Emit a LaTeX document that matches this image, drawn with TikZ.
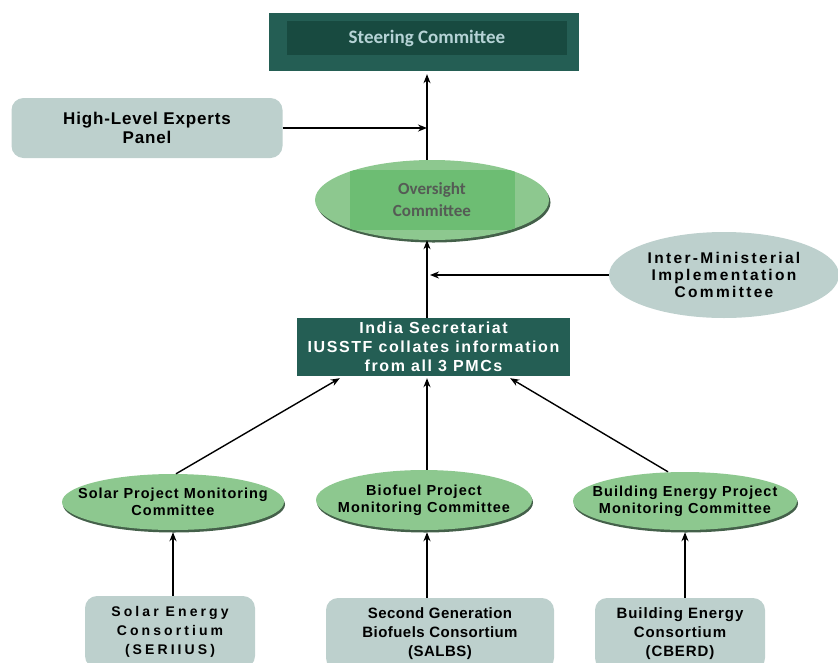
\documentclass[tikz,border=0pt]{standalone}
\usepackage{fontspec}
\setmainfont{Liberation Sans}
\newfontfamily\calibri{Carlito}
\usepackage{xcolor}
\usetikzlibrary{shapes.geometric,arrows.meta,shadows}

\definecolor{sfteal}{HTML}{245E54}
\definecolor{sfdeep}{HTML}{184A40}
\definecolor{sfsky}{HTML}{B6D3D6}
\definecolor{sfgrey}{HTML}{BDD0CD}
\definecolor{sfgreen}{HTML}{8DC88F}
\definecolor{sfleaf}{HTML}{6DBD73}
\definecolor{sfshade}{HTML}{44604A}
\definecolor{sfink}{HTML}{555B55}

\begin{document}
\begin{tikzpicture}[x=1pt, y=-1pt, >={Stealth[length=9pt,width=7pt]},
    darkbox/.style={rectangle, fill=sfteal, inner sep=0pt, align=center},
    greybox/.style={rectangle, rounded corners=12pt, fill=sfgrey, inner sep=0pt, align=center},
    greyoval/.style={ellipse, fill=sfgrey, inner sep=0pt, align=center},
    pmcoval/.style={ellipse, fill=sfgreen, inner xsep=-22pt, inner ysep=0pt, align=center,
      general shadow={fill=sfshade, shadow yshift=-2.5pt, shadow xshift=1pt},
      font=\bfseries\fontsize{14.5}{17}\selectfont\addfontfeature{LetterSpace=7}},
    link/.style={->, line width=1.1pt},
    heavylink/.style={->, line width=2pt}]
    \clip (0,0) rectangle (838,662);
    \pgfmathsetmacro{\colx}{427}
    \coordinate (col) at (\colx,0);

    % top of the tree
    \node[darkbox, minimum width=310, minimum height=58] (steer) at (424,42) {};
    \node[rectangle, fill=sfdeep, minimum width=280, minimum height=34, text=sfsky,
      font=\calibri\bfseries\fontsize{19}{22}\selectfont] (steerin) at (427,38) {Steering Committee};

    \node[greybox, minimum width=271, minimum height=60,
      font=\bfseries\fontsize{17}{19}\selectfont\addfontfeature{LetterSpace=5}] (hlp) at (147,128)
      {High-Level Experts\\Panel};

    \node[ellipse, fill=sfgreen, minimum width=234, minimum height=80, inner sep=0pt, align=center,
      general shadow={fill=sfshade, shadow yshift=-2.5pt, shadow xshift=1.5pt},
      path picture={\fill[sfleaf] ([xshift=-82pt,yshift=-30pt]path picture bounding box.center)
        rectangle ([xshift=83pt,yshift=30pt]path picture bounding box.center);},
      text=sfink, font=\calibri\bfseries\fontsize{17}{22}\selectfont] (ovs) at (432,200)
      {Oversight\\Committee};

    \node[greyoval, minimum width=230, minimum height=86,
      font=\bfseries\fontsize{15.5}{17}\selectfont\addfontfeature{LetterSpace=15}] (imc) at (724,275)
      {Inter-Ministerial\\Implementation\\Committee};

    \node[darkbox, minimum width=273, minimum height=58, text=white,
      font=\bfseries\fontsize{16}{19}\selectfont\addfontfeature{LetterSpace=10}] (sec) at (433.5,347)
      {India Secretariat\\IUSSTF collates information\\from all 3 PMCs};

    % project monitoring committees
    \node[pmcoval, minimum width=222, minimum height=56] (spmc) at (173,502)
      {Solar Project Monitoring\\Committee};
    \node[pmcoval, minimum width=216, minimum height=60] (bfpmc) at (424,500)
      {Biofuel Project\\Monitoring Committee};
    \node[pmcoval, minimum width=224, minimum height=58] (bpmc) at (685,501)
      {Building Energy Project\\Monitoring Committee};

    % consortia
    \node[greybox, minimum width=170, minimum height=72,
      font=\bfseries\fontsize{14}{19}\selectfont\addfontfeature{LetterSpace=22}] (scon) at (170,632)
      {Solar Energy\\Consortium\\(SERIIUS)};
    \node[greybox, minimum width=228, minimum height=72,
      font=\bfseries\fontsize{15}{19}\selectfont\addfontfeature{LetterSpace=3}] (bfcon) at (440,634)
      {Second Generation\\Biofuels Consortium\\(SALBS)};
    \node[greybox, minimum width=170, minimum height=72,
      font=\bfseries\fontsize{15}{19}\selectfont\addfontfeature{LetterSpace=6}] (bcon) at (680,634)
      {Building Energy\\Consortium\\(CBERD)};

    % connectors
    \draw[link] (ovs.north -| col) -- ([yshift=-3pt]steer.south -| col);
    \draw[heavylink] (hlp.east) -- (hlp.east -| col);
    \draw[link] (sec.north -| col) -- (ovs.south -| col);
    \draw[heavylink, shorten >=3pt] (imc.west) -- (imc.west -| col);
    \draw[link, line width=1.4pt] ([xshift=3pt]spmc.north) -- ([xshift=43pt,yshift=-2pt]sec.south west);
    \draw[link, line width=1.4pt] (bfpmc.north -| col) -- ([yshift=-2pt]sec.south -| col);
    \draw[link, line width=1.4pt] ([xshift=-17pt]bpmc.north) -- ([xshift=-60pt,yshift=-2pt]sec.south east);
    \draw[heavylink] (scon.north -| spmc) -- ([yshift=-2pt]spmc.south);
    \draw[heavylink] (bfcon.north -| col) -- ([yshift=-2pt]bfpmc.south -| col);
    \draw[heavylink] (bcon.north -| bpmc) -- ([yshift=-2pt]bpmc.south);
\end{tikzpicture}
\end{document}
